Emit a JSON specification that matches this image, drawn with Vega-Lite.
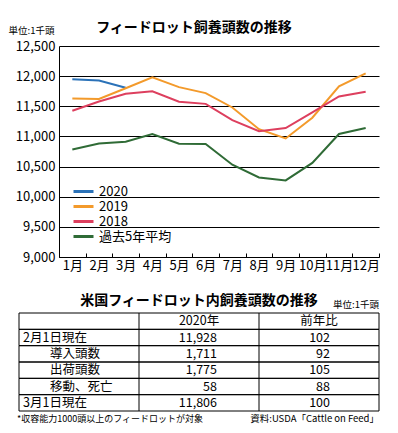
{
  "$schema": "https://vega.github.io/schema/vega-lite/v6.json",
  "padding": {"left": 8, "top": 21, "right": 4, "bottom": 4},
  "spacing": 22,
  "background": "white",
  "config": {"font": "Noto Sans CJK JP", "view": {"stroke": null}},
  "vconcat": [
    {
      "width": 320,
      "height": 211,
      "title": {"text": "フィードロット飼養頭数の推移", "fontSize": 14, "fontWeight": "bold", "anchor": "middle", "dx": -25, "offset": -10, "color": "black"},
      "data": {"values": [
        {"month": "1月", "series": "2020", "value": 11950},
        {"month": "2月", "series": "2020", "value": 11928},
        {"month": "3月", "series": "2020", "value": 11806},
        {"month": "1月", "series": "2019", "value": 11630},
        {"month": "2月", "series": "2019", "value": 11620},
        {"month": "3月", "series": "2019", "value": 11800},
        {"month": "4月", "series": "2019", "value": 11980},
        {"month": "5月", "series": "2019", "value": 11818},
        {"month": "6月", "series": "2019", "value": 11718},
        {"month": "7月", "series": "2019", "value": 11480},
        {"month": "8月", "series": "2019", "value": 11120},
        {"month": "9月", "series": "2019", "value": 10967},
        {"month": "10月", "series": "2019", "value": 11310},
        {"month": "11月", "series": "2019", "value": 11830},
        {"month": "12月", "series": "2019", "value": 12045},
        {"month": "1月", "series": "2018", "value": 11425},
        {"month": "2月", "series": "2018", "value": 11580},
        {"month": "3月", "series": "2018", "value": 11707},
        {"month": "4月", "series": "2018", "value": 11750},
        {"month": "5月", "series": "2018", "value": 11575},
        {"month": "6月", "series": "2018", "value": 11540},
        {"month": "7月", "series": "2018", "value": 11270},
        {"month": "8月", "series": "2018", "value": 11088},
        {"month": "9月", "series": "2018", "value": 11138},
        {"month": "10月", "series": "2018", "value": 11398},
        {"month": "11月", "series": "2018", "value": 11663},
        {"month": "12月", "series": "2018", "value": 11740},
        {"month": "1月", "series": "過去5年平均", "value": 10784},
        {"month": "2月", "series": "過去5年平均", "value": 10884},
        {"month": "3月", "series": "過去5年平均", "value": 10912},
        {"month": "4月", "series": "過去5年平均", "value": 11038},
        {"month": "5月", "series": "過去5年平均", "value": 10879},
        {"month": "6月", "series": "過去5年平均", "value": 10874},
        {"month": "7月", "series": "過去5年平均", "value": 10530},
        {"month": "8月", "series": "過去5年平均", "value": 10320},
        {"month": "9月", "series": "過去5年平均", "value": 10270},
        {"month": "10月", "series": "過去5年平均", "value": 10560},
        {"month": "11月", "series": "過去5年平均", "value": 11040},
        {"month": "12月", "series": "過去5年平均", "value": 11140}
      ]},
      "mark": {"type": "line", "strokeWidth": 2},
      "encoding": {
        "x": {
          "field": "month", "type": "ordinal",
          "sort": ["1月", "2月", "3月", "4月", "5月", "6月", "7月", "8月", "9月", "10月", "11月", "12月"],
          "scale": {"type": "band", "paddingInner": 0, "paddingOuter": 0},
          "bandPosition": 0.5,
          "axis": {"title": null, "labelAngle": 0, "tickBand": "extent", "tickSize": -4, "tickColor": "black", "domainColor": "black", "labelFontSize": 13, "labelColor": "black", "labelPadding": 6, "labelOverlap": false, "grid": false}
        },
        "y": {
          "field": "value", "type": "quantitative",
          "scale": {"domain": [9000, 12500], "nice": false, "zero": false},
          "axis": {"values": [9000, 9500, 10000, 10500, 11000, 11500, 12000, 12500], "format": ",.0f", "title": "単位:1千頭", "titleAngle": 0, "titleX": -51, "titleY": -16, "titleAlign": "left", "titleBaseline": "middle", "titleFontSize": 9.5, "titleFontWeight": "normal", "titleColor": "black", "ticks": false, "grid": true, "gridColor": "black", "gridOpacity": 1, "domainColor": "black", "labelFontSize": 13, "labelColor": "black", "labelPadding": 4}
        },
        "color": {
          "field": "series", "type": "nominal",
          "scale": {"domain": ["2020", "2019", "2018", "過去5年平均"], "range": ["#2b72b8", "#f39a2b", "#dd3f5e", "#2f6b36"]},
          "legend": {"title": null, "orient": "none", "legendX": 13, "legendY": 138, "symbolType": "stroke", "symbolSize": 400, "symbolStrokeWidth": 3, "clipHeight": 15, "rowPadding": 0, "labelFontSize": 13, "labelColor": "black"}
        }
      }
    },
    {
      "width": 320,
      "height": 98,
      "title": {"text": "米国フィードロット内飼養頭数の推移", "fontSize": 14, "fontWeight": "bold", "anchor": "middle", "dx": -20, "offset": -8, "color": "black"},
      "data": {"values": [
        {"row": 0, "label": "", "v2020": null, "ratio": null},
        {"row": 1, "label": "2月1日現在", "v2020": 11928, "ratio": 102},
        {"row": 2, "label": "導入頭数", "v2020": 1711, "ratio": 92},
        {"row": 3, "label": "出荷頭数", "v2020": 1775, "ratio": 105},
        {"row": 4, "label": "移動、死亡", "v2020": 58, "ratio": 88},
        {"row": 5, "label": "3月1日現在", "v2020": 11806, "ratio": 100}
      ]},
      "layer": [
        {
          "mark": {"type": "rect", "fill": "white", "fillOpacity": 0, "stroke": "black", "strokeWidth": 1},
          "encoding": {
            "x": {"datum": 0, "type": "quantitative", "scale": {"domain": [0.3333, 3], "nice": false, "zero": false}, "axis": null},
            "x2": {"datum": 3},
            "y": {"field": "row", "type": "ordinal", "scale": {"domain": [0, 1, 2, 3, 4, 5], "paddingInner": 0, "paddingOuter": 0}, "axis": null}
          }
        },
        {"data": {"values": [{}]}, "mark": {"type": "rule", "color": "black", "strokeWidth": 1}, "encoding": {"x": {"datum": 1, "type": "quantitative"}}},
        {"data": {"values": [{}]}, "mark": {"type": "rule", "color": "black", "strokeWidth": 1}, "encoding": {"x": {"datum": 2, "type": "quantitative"}}},
        {
          "transform": [{"filter": "datum.row == 1 || datum.row == 5"}],
          "mark": {"type": "text", "align": "left", "dx": 4, "fontSize": 12.5, "color": "black"},
          "encoding": {"x": {"datum": 0, "type": "quantitative"}, "y": {"field": "row", "type": "ordinal"}, "text": {"field": "label"}}
        },
        {
          "transform": [{"filter": "datum.row >= 2 && datum.row <= 4"}],
          "mark": {"type": "text", "align": "left", "dx": 31, "fontSize": 12.5, "color": "black"},
          "encoding": {"x": {"datum": 0, "type": "quantitative"}, "y": {"field": "row", "type": "ordinal"}, "text": {"field": "label"}}
        },
        {
          "transform": [{"filter": "datum.row > 0"}],
          "mark": {"type": "text", "align": "right", "dx": 78, "fontSize": 12.5, "color": "black"},
          "encoding": {"x": {"datum": 1, "type": "quantitative"}, "y": {"field": "row", "type": "ordinal"}, "text": {"field": "v2020", "type": "quantitative", "format": ","}}
        },
        {
          "transform": [{"filter": "datum.row > 0"}],
          "mark": {"type": "text", "align": "right", "dx": 71, "fontSize": 12.5, "color": "black"},
          "encoding": {"x": {"datum": 2, "type": "quantitative"}, "y": {"field": "row", "type": "ordinal"}, "text": {"field": "ratio", "type": "quantitative"}}
        },
        {
          "data": {"values": [{}]},
          "mark": {"type": "text", "align": "center", "fontSize": 12.5, "color": "black", "text": "2020年"},
          "encoding": {"x": {"datum": 1.5, "type": "quantitative"}, "y": {"datum": 0, "type": "ordinal"}}
        },
        {
          "data": {"values": [{}]},
          "mark": {"type": "text", "align": "center", "fontSize": 12.5, "color": "black", "text": "前年比"},
          "encoding": {"x": {"datum": 2.5, "type": "quantitative"}, "y": {"datum": 0, "type": "ordinal"}}
        },
        {
          "data": {"values": [{}]},
          "mark": {"type": "text", "align": "right", "dy": -16, "fontSize": 9.5, "color": "black", "text": "単位:1千頭"},
          "encoding": {"x": {"datum": 3, "type": "quantitative"}, "y": {"datum": 0, "type": "ordinal"}}
        },
        {
          "data": {"values": [{}]},
          "mark": {"type": "text", "align": "left", "dx": -2, "dy": 16, "fontSize": 9, "color": "black", "text": "*収容能力1000頭以上のフィードロットが対象"},
          "encoding": {"x": {"datum": 0, "type": "quantitative"}, "y": {"datum": 5, "type": "ordinal"}}
        },
        {
          "data": {"values": [{}]},
          "mark": {"type": "text", "align": "right", "dy": 16, "fontSize": 9.5, "color": "black", "text": "資料:USDA「Cattle on Feed」"},
          "encoding": {"x": {"datum": 3, "type": "quantitative"}, "y": {"datum": 5, "type": "ordinal"}}
        }
      ]
    }
  ]
}
